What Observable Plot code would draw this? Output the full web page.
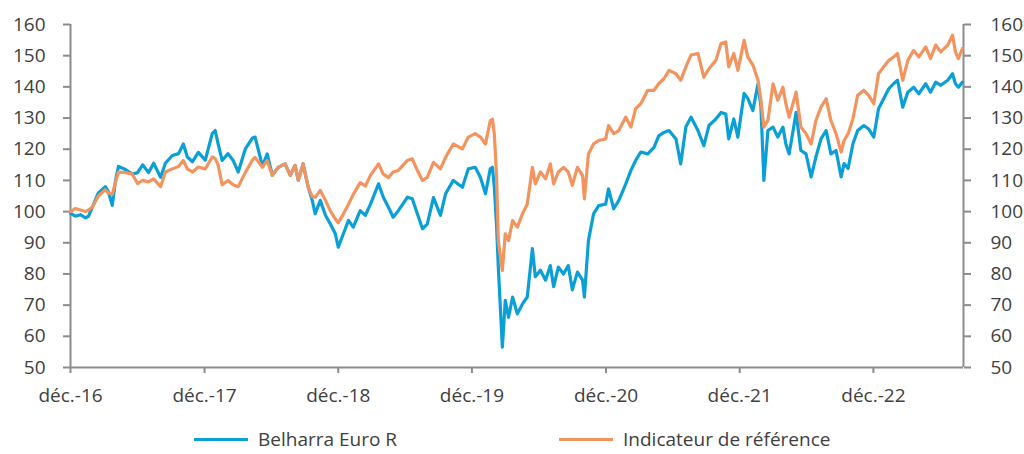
<!DOCTYPE html>
<html><head><meta charset="utf-8">
<script src="https://cdn.jsdelivr.net/npm/d3@7"></script>
<script src="https://cdn.jsdelivr.net/npm/@observablehq/plot@0.6"></script>
<style>
body{margin:0;background:#fff;font-family:"Open Sans",sans-serif;}
#wrap{position:relative;width:1024px;height:454px;}
.leg{position:absolute;top:430px;display:flex;align-items:center;font-size:19px;color:#404040;line-height:19px;white-space:nowrap;}
.sw{width:54px;height:3px;margin-right:10px;}
</style></head><body><div id="wrap"></div>
<script>
const dates = ["2016-12-30","2017-01-12","2017-01-26","2017-02-09","2017-02-17","2017-02-28","2017-03-16","2017-04-04","2017-04-12","2017-04-23","2017-05-02","2017-05-10","2017-05-29","2017-06-17","2017-07-01","2017-07-15","2017-07-31","2017-08-14","2017-09-02","2017-09-15","2017-10-04","2017-10-21","2017-11-03","2017-11-14","2017-11-28","2017-12-14","2018-01-02","2018-01-21","2018-01-29","2018-02-06","2018-02-17","2018-03-05","2018-03-19","2018-04-02","2018-04-21","2018-05-10","2018-05-18","2018-06-07","2018-06-20","2018-07-04","2018-07-20","2018-08-08","2018-08-22","2018-09-04","2018-09-13","2018-09-26","2018-10-10","2018-10-21","2018-10-29","2018-11-12","2018-11-26","2018-12-09","2018-12-23","2018-12-31","2019-01-14","2019-01-28","2019-02-10","2019-03-01","2019-03-15","2019-03-29","2019-04-20","2019-05-03","2019-05-17","2019-05-30","2019-06-13","2019-07-08","2019-07-21","2019-08-04","2019-08-18","2019-08-31","2019-09-17","2019-10-06","2019-10-20","2019-11-10","2019-12-05","2019-12-21","2020-01-09","2020-01-23","2020-02-06","2020-02-19","2020-02-25","2020-03-01","2020-03-07","2020-03-12","2020-03-23","2020-03-31","2020-04-09","2020-04-20","2020-05-03","2020-05-17","2020-05-30","2020-06-13","2020-06-21","2020-07-05","2020-07-19","2020-08-01","2020-08-10","2020-08-23","2020-09-06","2020-09-19","2020-09-30","2020-10-14","2020-10-28","2020-11-02","2020-11-13","2020-11-27","2020-12-11","2020-12-30","2021-01-07","2021-01-21","2021-02-04","2021-02-23","2021-03-09","2021-03-22","2021-04-05","2021-04-24","2021-05-11","2021-05-24","2021-06-07","2021-06-21","2021-07-10","2021-07-23","2021-08-06","2021-08-20","2021-09-08","2021-09-24","2021-10-08","2021-10-27","2021-11-10","2021-11-23","2021-12-01","2021-12-15","2021-12-26","2022-01-12","2022-01-22","2022-02-05","2022-02-19","2022-02-27","2022-03-07","2022-03-18","2022-04-01","2022-04-14","2022-04-28","2022-05-06","2022-05-15","2022-06-03","2022-06-16","2022-06-30","2022-07-14","2022-07-27","2022-08-10","2022-08-24","2022-09-06","2022-09-20","2022-10-04","2022-10-12","2022-10-23","2022-11-05","2022-11-18","2022-12-05","2022-12-18","2023-01-01","2023-01-14","2023-01-28","2023-02-11","2023-02-24","2023-03-07","2023-03-21","2023-04-04","2023-04-20","2023-05-04","2023-05-23","2023-06-05","2023-06-19","2023-07-03","2023-07-22","2023-08-04","2023-08-12","2023-08-20","2023-08-31"];
const belharra = [99.5,98.5,99,98,98.5,101.5,106,108,106.5,102,110,114.5,113.5,112,112.5,115,112.5,115.5,111,115.5,118,118.6,121.7,117.5,116,119,116.5,125,126,121.7,116.4,118.6,116.4,112.7,120,123.5,123.9,114.6,118.5,111.6,114.2,115.3,111.6,114.8,110,115.3,107.8,103.6,99.3,103.6,98.8,96.1,92.9,88.6,92.9,97.2,95,100.3,98.8,102.4,108.9,104.6,101.4,98.2,100.3,104.6,104.1,99.3,94.5,96,104.5,98.8,105.7,110,107.8,113.7,114.2,111,105.7,113.7,114.2,108,96,82.2,56.5,71.5,66.1,72.6,67.2,70.4,72.6,88.1,79.1,81.2,78,82.7,75.9,82.2,80,82.7,74.9,80.6,78,72.6,90.7,99.3,101.9,102.4,107.3,100.9,103.6,108.9,113.2,116.4,119.1,118.5,120.6,124.3,125.4,126,123.3,115.3,127.1,130.3,126,121.1,127.6,129.7,131.8,131.3,123.3,129.7,123.9,137.9,136.3,132.4,141,133.5,110,126,127.1,123.9,127.1,121.7,118.5,131.8,119.6,118.5,111.1,117.5,123.3,126,118.5,119.6,111.1,115.4,113.8,121.7,126,127.6,126.5,123.9,133,136.2,139.4,141,142.1,133.5,138.3,139.9,137.8,141,138.3,141.5,140.5,142.1,144.2,141,139.9,141.5];
const indicateur = [100,101,100.5,100,100.5,101.5,105,107,106,105.5,109.5,112.7,112.5,112,109,110,109.5,110.5,108,112.7,113.7,114.5,116.4,113.7,112.7,114.3,113.7,117.5,117,115,108.6,110,108.6,108,112.5,116.4,117.4,114.2,116.4,111.6,114.2,115.3,111.6,114.8,110,115.3,107.8,104.8,104.6,106.8,103.6,100.3,97.6,96.4,99.2,102.4,105.5,109.3,108.2,111.6,115.3,112,110.9,112.7,113.2,116.4,116.9,113.2,110,111,115.8,113.7,117.4,121.7,120.1,123.9,125,123.9,121.7,129.1,129.6,125,112,90.7,81.1,92.9,90.7,97.1,95,99.3,102.4,114.2,108.9,112.7,110.5,115.3,108.9,112.7,114.2,112.7,108.4,114.2,111.6,104.1,118.5,121.7,122.8,123.3,127.6,125,126,130.3,127.1,133,134.6,138.9,138.9,141,142.6,145.3,144.2,142.1,146.4,150.2,150.7,143.1,145.8,148.5,153.9,154.4,146.4,150.7,145.3,154.9,149.6,147,142.1,135.7,127.1,129.2,141,135.7,139.9,134.6,130.3,138.3,127.1,125,121.7,129.2,133.5,136.2,129.2,125,119.1,122.8,125,129.7,137.3,138.9,137.3,134.6,144.2,146.4,148.5,149.6,150.7,142.1,148.5,151.7,149.6,152.8,149.1,153.4,151.2,153.4,156.6,151.2,149.1,152.3];
const tickDates = ["2016-12-30","2017-12-31","2018-12-31","2019-12-31","2020-12-31","2021-12-31","2022-12-31"];
const tickLabels = ["déc.-16","déc.-17","déc.-18","déc.-19","déc.-20","déc.-21","déc.-22"];
const yTicks = [50,60,70,80,90,100,110,120,130,140,150,160];
const seriesNames = ["Belharra Euro R","Indicateur de référence"];
const seriesColors = ["#0a9fd6","#f3945f"];

const rows = dates.map((d,i)=>({date:new Date(d), b:belharra[i], r:indicateur[i]}));
const tks = tickDates.map(d=>new Date(d));
const x0 = new Date("2016-12-30"), x1 = new Date("2023-09-03");
const axisColor = "#8c8c8c", textColor = "#404040";

const chart = Plot.plot({
  width:1024, height:420,
  marginTop:24, marginBottom:53, marginLeft:70, marginRight:61,
  style:{fontFamily:"'Open Sans', sans-serif", fontSize:"19px", color:textColor, background:"#fff"},
  x:{type:"utc", domain:[x0,x1]},
  y:{domain:[50,160]},
  marks:[
    Plot.axisY({anchor:"left", ticks:yTicks, tickSize:7, tickPadding:18, stroke:axisColor, fill:textColor, fontSize:19, label:null, strokeWidth:2}),
    Plot.axisY({anchor:"right", ticks:yTicks, tickSize:7, tickPadding:20, stroke:axisColor, fill:textColor, fontSize:19, label:null, strokeWidth:2}),
    Plot.axisX({ticks:tks, tickFormat:d=>tickLabels[tks.findIndex(t=>+t===+d)], tickSize:6, tickPadding:15, stroke:axisColor, fill:textColor, fontSize:19, label:null, strokeWidth:2}),
    Plot.ruleX([x0,x1], {stroke:axisColor, strokeWidth:2}),
    Plot.ruleY([50], {stroke:axisColor, strokeWidth:2}),
    Plot.line(rows, {x:"date", y:"b", stroke:seriesColors[0], strokeWidth:3.2}),
    Plot.line(rows, {x:"date", y:"r", stroke:seriesColors[1], strokeWidth:3.2})
  ]
});
const wrap = document.getElementById("wrap");
wrap.appendChild(chart);
const legLeft = [194, 559];
seriesNames.forEach((n,i)=>{
  const d = document.createElement("div");
  d.className = "leg";
  d.style.left = legLeft[i] + "px";
  d.innerHTML = `<span class="sw" style="background:${seriesColors[i]}"></span><span>${n}</span>`;
  wrap.appendChild(d);
});
</script></body></html>
